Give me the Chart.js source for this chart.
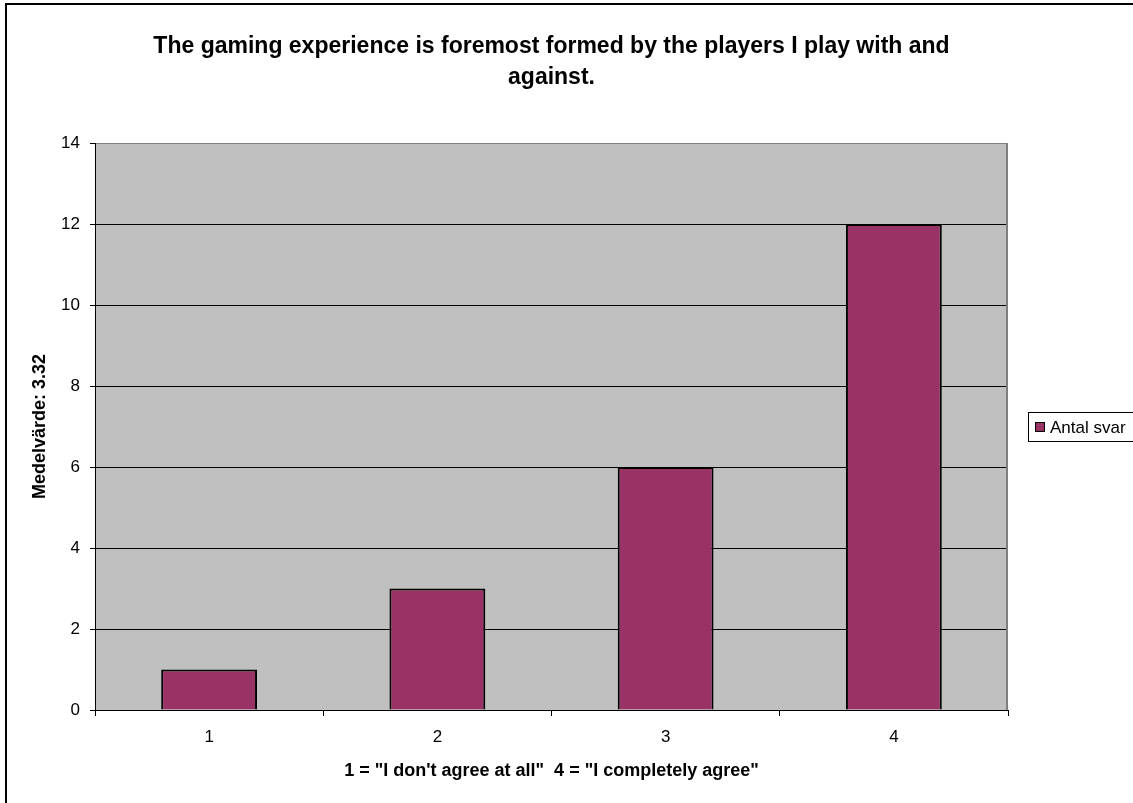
<!DOCTYPE html>
<html>
<head>
<meta charset="utf-8">
<script src="https://cdn.jsdelivr.net/npm/chart.js@4"></script>
<style>
  html, body { margin: 0; padding: 0; background: #fff; }
</style>
</head>
<body>
<canvas id="chart" width="1133" height="803"></canvas>
<script>
var categories = ['1', '2', '3', '4']
var answers = [1, 3, 6, 12]
var seriesName = 'Antal svar'
var titleLines = ['The gaming experience is foremost formed by the players I play with and', 'against.']
var xTitle = '1 = "I don\'t agree at all"  4 = "I completely agree"'
var yTitle = 'Medelvärde: 3.32'

var FONT = '"Liberation Sans", Arial, sans-serif'

// grey plot area, outer frame, title and legend drawn the Excel way
var excelLook = {
  id: 'excelLook',
  beforeDraw: function (chart) {
    var ctx = chart.ctx, a = chart.chartArea
    ctx.save()
    ctx.fillStyle = '#fff'
    ctx.fillRect(0, 0, chart.width, chart.height)
    ctx.fillStyle = '#c0c0c0'
    ctx.fillRect(a.left, a.top, a.right - a.left, a.bottom - a.top)
    ctx.restore()
  },
  afterDraw: function (chart) {
    var ctx = chart.ctx, a = chart.chartArea
    ctx.save()
    // right edge of plot
    ctx.strokeStyle = '#808080'
    ctx.lineWidth = 2
    ctx.beginPath()
    ctx.moveTo(a.right - 1, a.top)
    ctx.lineTo(a.right - 1, a.bottom)
    ctx.stroke()
    // chart frame
    ctx.strokeStyle = '#000'
    ctx.lineWidth = 2
    ctx.strokeRect(6, 4, 1200, 900)
    // title
    ctx.fillStyle = '#000'
    ctx.font = 'bold 23px ' + FONT
    ctx.textAlign = 'center'
    ctx.textBaseline = 'middle'
    var cx = (a.left + a.right) / 2
    titleLines.forEach(function (t, i) { ctx.fillText(t, cx, 47 + i * 31) })
    // legend
    ctx.lineWidth = 1
    ctx.strokeRect(1028.5, 412.5, 140, 29)
    ctx.fillStyle = '#993366'
    ctx.fillRect(1035, 422, 10, 10)
    ctx.strokeRect(1035.5, 422.5, 9, 9)
    ctx.fillStyle = '#000'
    ctx.font = '17px ' + FONT
    ctx.textAlign = 'left'
    ctx.fillText(seriesName, 1050, 428)
    ctx.restore()
  }
}

new Chart(document.getElementById('chart'), {
  type: 'bar',
  data: {
    labels: categories,
    datasets: [{
      label: seriesName,
      data: answers,
      backgroundColor: '#993366',
      borderColor: '#000',
      borderWidth: 2,
      barPercentage: 0.42,
      categoryPercentage: 1
    }]
  },
  options: {
    responsive: false,
    animation: false,
    layout: { padding: { left: 0, top: 143, right: 125, bottom: 0 } },
    plugins: {
      legend: { display: false },
      title: { display: false },
      tooltip: { enabled: false }
    },
    scales: {
      x: {
        grid: { offset: true, drawOnChartArea: false, tickLength: 6, tickColor: '#000', color: '#000' },
        border: { color: '#000', width: 1 },
        ticks: { color: '#000', font: { family: FONT, size: 17 }, padding: 11 },
        title: {
          display: true, text: xTitle, color: '#000',
          font: { family: FONT, size: 18, weight: 'bold' },
          padding: { top: 0, bottom: 21 }
        },
        afterFit: function (s) { s.height = 93 }
      },
      y: {
        min: 0,
        max: 14,
        ticks: { stepSize: 2, color: '#000', font: { family: FONT, size: 17 }, padding: 10 },
        grid: {
          color: function (c) { return c.tick && c.tick.value === 14 ? '#808080' : '#000' },
          tickColor: '#000',
          tickLength: 5
        },
        border: { color: '#000', width: 1 },
        title: {
          display: true, text: yTitle, color: '#000',
          font: { family: FONT, size: 18, weight: 'bold' },
          padding: { top: 29, bottom: 0 }
        },
        afterFit: function (s) { s.width = 95 }
      }
    }
  },
  plugins: [excelLook]
})
</script>
</body>
</html>
